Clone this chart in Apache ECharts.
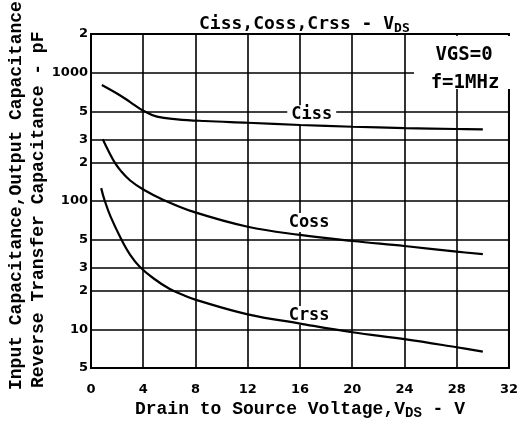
<!DOCTYPE html>
<html>
<head>
<meta charset="utf-8">
<script src="https://cdn.jsdelivr.net/npm/echarts@6/dist/echarts.min.js"></script>
<style>
  html, body { margin: 0; padding: 0; background: #fff; }
  #chart { width: 521px; height: 427px; }
</style>
</head>
<body>
<div id="chart"></div>
<script>
// horizontal grid values (pF) and how they are printed on the sheet
const yGridValues = [5, 10, 20, 30, 50, 100, 200, 300, 500, 1000, 2000];
const yGridLabels = ['5', '10', '2', '3', '5', '100', '2', '3', '5', '1000', '2'];

// Ciss - VDS
const cissV = [0.83, 2.3, 3, 4, 5.05, 6.6, 8.7, 12, 16, 20, 24, 28, 30];
const cissC = [800, 658, 590, 505, 454, 433, 420, 407, 391, 379, 370, 364, 362];

// Coss - VDS
const cossV = [0.9, 1.3, 1.8, 2.3, 3, 4, 5.55, 7.8, 12, 16, 20, 24, 28, 30];
const cossC = [303, 250, 201, 171, 144.5, 123, 102, 82.6, 63, 54.4, 48.8, 44.6, 40.3, 38.5];

// Crss - VDS
const crssV = [0.78, 1.03, 1.5, 2.28, 3, 3.73, 4.8, 6, 7.06, 8.1, 12, 16, 20, 24, 28, 30];
const crssC = [126, 102, 75.5, 51.3, 38.1, 30.8, 24.9, 20.7, 18.5, 16.9, 13.1, 11.1, 9.5, 8.4, 7.25, 6.7];

const zip = (xs, ys) => xs.map((x, i) => [x, ys[i]]);

const monoFont = '"Liberation Mono", "DejaVu Sans Mono", monospace';
const labelFont = '"DejaVu Sans Mono", monospace';
const tickFont = '"DejaVu Sans", sans-serif';

const chart = echarts.init(document.getElementById('chart'));

const curveStyle = { color: '#000', width: 2.2 };

function curveLabel(text, v, c) {
  return {
    coord: [v, c],
    value: text,
    label: { formatter: text }
  };
}

function curve(name, xs, ys) {
  return {
    name: name,
    type: 'line',
    zlevel: 1,
    z: 3,
    smooth: 0.4,
    showSymbol: false,
    silent: true,
    lineStyle: curveStyle,
    data: zip(xs, ys)
  };
}

const option = {
  animation: false,
  backgroundColor: '#fff',
  title: {
    text: '{a|Ciss,Coss,Crss - V}{b|DS}',
    left: 194,
    top: 9,
    textStyle: {
      rich: {
        a: { fontFamily: labelFont, fontSize: 18, color: '#000' },
        b: { fontFamily: labelFont, fontSize: 13, color: '#000', padding: [8, 0, 0, 0] }
      }
    }
  },
  grid: {
    left: 91,
    right: 7,
    top: 34,
    bottom: 59,
    show: true,
    borderColor: '#000',
    borderWidth: 2,
    backgroundColor: 'transparent'
  },
  xAxis: {
    type: 'value',
    min: 0,
    max: 32,
    interval: 4,
    name: '{a|Drain to Source Voltage,V}{b|DS}{a| - V}',
    nameLocation: 'middle',
    nameGap: 30,
    nameTextStyle: {
      rich: {
        a: { fontFamily: monoFont, fontWeight: 'bold', fontSize: 18, color: '#000' },
        b: { fontFamily: monoFont, fontWeight: 'bold', fontSize: 14, color: '#000', padding: [8, 0, 0, 0] }
      }
    },
    axisLine: { show: false },
    axisTick: { show: false },
    axisLabel: { color: '#000', fontFamily: tickFont, fontWeight: 'bold', fontSize: 13, margin: 15 },
    splitLine: { show: true, lineStyle: { color: '#000', width: 1.6 } }
  },
  yAxis: {
    type: 'log',
    logBase: 10,
    min: 5,
    max: 2000,
    axisLine: { show: false },
    axisTick: { show: false },
    axisLabel: { show: false },
    splitLine: { show: false }
  },
  graphic: [
    {
      type: 'text',
      x: 16,
      y: 390,
      rotation: Math.PI / 2,
      style: {
        text: 'Input Capacitance,Output Capacitance',
        font: 'bold 18px ' + monoFont,
        fill: '#000',
        textAlign: 'left',
        textVerticalAlign: 'middle'
      }
    },
    {
      type: 'text',
      x: 38,
      y: 388,
      rotation: Math.PI / 2,
      style: {
        text: 'Reverse Transfer Capacitance - pF',
        font: 'bold 18px ' + monoFont,
        fill: '#000',
        textAlign: 'left',
        textVerticalAlign: 'middle'
      }
    },
    {
      type: 'rect',
      z: 100,
      shape: { x: 414, y: 36, width: 98, height: 53 },
      style: { fill: '#fff' }
    },
    {
      type: 'text',
      z: 101,
      x: 464,
      y: 55,
      style: {
        text: 'VGS=0',
        font: 'bold 19px ' + labelFont,
        fill: '#000',
        textAlign: 'center',
        textVerticalAlign: 'middle'
      }
    },
    {
      type: 'text',
      z: 101,
      x: 465,
      y: 83,
      style: {
        text: 'f=1MHz',
        font: 'bold 19px ' + labelFont,
        fill: '#000',
        textAlign: 'center',
        textVerticalAlign: 'middle'
      }
    }
  ],
  series: [
    {
      // horizontal grid of the log axis, printed labels and the curve names
      name: 'grid',
      type: 'line',
      data: [],
      z: 1,
      silent: true,
      markLine: {
        silent: true,
        symbol: ['none', 'none'],
        lineStyle: { color: '#000', width: 1.6, type: 'solid' },
        label: {
          position: 'start',
          distance: 3,
          color: '#000',
          fontFamily: tickFont,
          fontWeight: 'bold',
          fontSize: 13
        },
        emphasis: { disabled: true },
        data: yGridValues.map((v, i) => ({ yAxis: v, label: { formatter: yGridLabels[i] } }))
      },
      markPoint: {
        silent: true,
        symbol: 'rect',
        symbolSize: 1,
        itemStyle: { color: 'rgba(0,0,0,0)' },
        label: {
          show: true,
          position: 'inside',
          color: '#000',
          fontFamily: labelFont,
          fontWeight: 'bold',
          fontSize: 17,
          backgroundColor: '#fff',
          padding: [1, 4]
        },
        data: [
          curveLabel('Ciss', 16.9, 470),
          curveLabel('Coss', 16.7, 68),
          curveLabel('Crss', 16.7, 12.8)
        ]
      }
    },
    curve('Ciss', cissV, cissC),
    curve('Coss', cossV, cossC),
    curve('Crss', crssV, crssC)
  ]
};

chart.setOption(option);
</script>
</body>
</html>
